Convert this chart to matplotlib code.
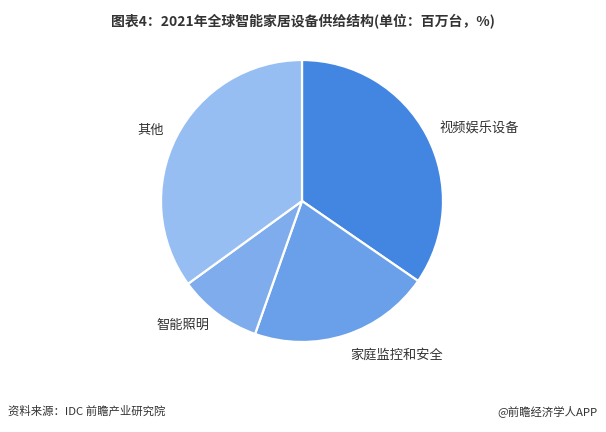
import matplotlib.pyplot as plt

plt.rcParams['font.family'] = ['Noto Sans CJK SC', 'DejaVu Sans']

# 2021年全球智能家居设备供给结构 (%)
categories = ['视频娱乐设备', '家庭监控和安全', '智能照明', '其他']
shares = [34.6, 20.8, 9.6, 35.0]
colors = ['#4286E1', '#6AA0E9', '#7EACEC', '#97BEF2']

fig = plt.figure(figsize=(6.06, 4.32), dpi=100)
fig.patch.set_facecolor('white')

# pie radius ~141px, centre at (302, 201) from top-left
r_px = 141
half = 1.25 * r_px
ax = fig.add_axes([(302 - half) / 606, (231 - half) / 432, 2 * half / 606, 2 * half / 432])

wedges, texts = ax.pie(shares, labels=categories, colors=colors,
                       startangle=90, counterclock=False, labeldistance=1.1,
                       wedgeprops=dict(edgecolor='white', linewidth=1.6),
                       textprops=dict(fontsize=9.5, color='#333333'))
# the bottom label sits a little lower in the original
texts[1].set_y(texts[1].get_position()[1] - 0.05)

fig.text(0.5, 1 - 22 / 432, '图表4：2021年全球智能家居设备供给结构(单位：百万台，%)',
         ha='center', va='center', fontsize=10, fontweight='bold', color='#333333')
fig.text(8 / 606, 1 - 411 / 432, '资料来源：IDC 前瞻产业研究院',
         ha='left', va='center', fontsize=8.2, color='#333333')
fig.text(598 / 606, 1 - 411 / 432, '@前瞻经济学人APP',
         ha='right', va='center', fontsize=8.2, color='#333333')

fig.savefig('out.png', dpi=100)
